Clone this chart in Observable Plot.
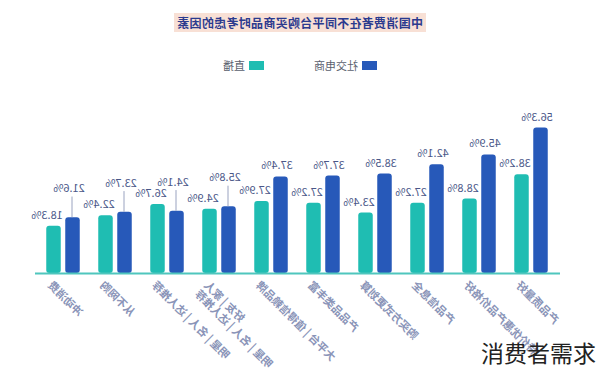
<!DOCTYPE html>
<html>
<head>
<meta charset="utf-8">
<script src="https://cdn.jsdelivr.net/npm/d3@7"></script>
<script src="https://cdn.jsdelivr.net/npm/@observablehq/plot@0.6"></script>
<style>
  body { margin: 0; background: #fff; font-family: "Noto Sans CJK SC", "Noto Sans", sans-serif; }
  #wrap { position: relative; width: 600px; height: 374px; overflow: hidden; }
  #mirror { position: absolute; left: 0; top: 0; width: 600px; height: 374px; transform: scaleX(-1); }
  #title { position: absolute; top: 12px; left: 0; width: 600px; text-align: center; line-height: 18px; }
  #title span { background: #f8e0d5; color: #2b3a8e; font-weight: bold; font-size: 12px; padding: 1px 3px; letter-spacing: 0.3px; }
  #legend { position: absolute; top: 57px; left: 0; width: 600px; display: flex; justify-content: center; gap: 50px; font-size: 11px; color: #5a5f6e; line-height: 16px; }
  #legend .item { display: flex; align-items: center; gap: 4px; }
  #legend .sw { width: 15px; height: 9px; display: inline-block; }
  #chart { position: absolute; top: 80px; left: 0; }
  #wm { position: absolute; right: 4px; top: 337px; font-size: 23px; color: #222; line-height: 30px; }
</style>
</head>
<body>
<div id="wrap">
  <div id="mirror">
    <div id="title"></div>
    <div id="legend"></div>
    <div id="chart"></div>
  </div>
  <div id="wm">消费者需求</div>
</div>
<script>
// ---- data ----
const titleText = "中国消费者在不同平台购买商品时考虑的因素";
const categories = [
  "产品质量好",
  "特价优惠产品价格好",
  "产品信息全",
  "购买方式更划算",
  "产品品类丰富",
  "大平台 | 值得信赖品牌",
  "好友 | 家人\n明星 | 名人 | 达人推荐",
  "明星 | 名人 | 达人推荐",
  "从不网购",
  "冲动消费"
];
const seriesNames = ["社交电商", "直播"];
const seriesColors = ["#2759b9", "#1fbdb2"];
const socialValues = [56.3, 45.9, 42.1, 38.5, 37.7, 37.4, 25.8, 24.1, 23.7, 21.6];
const liveValues = [38.2, 28.8, 27.2, 23.4, 27.2, 27.9, 24.9, 26.7, 22.4, 18.3];

// ---- tables ----
const socialData = categories.map((c, i) => ({cat: c, value: socialValues[i], other: liveValues[i]}));
const liveData = categories.map((c, i) => ({cat: c, value: liveValues[i]}));
const isRaised = d => Math.abs(d.value - d.other) < 5;

// title & legend
document.getElementById("title").innerHTML = `<span>${titleText}</span>`;
document.getElementById("legend").innerHTML = seriesNames.map((s, i) =>
  `<span class="item"><span class="sw" style="background:${seriesColors[i]}"></span>${s}</span>`).join("");

const W = 600, H = 294;
const step = (W - 40 - 35) / categories.length;
const half = step / 2;
const pct = d => d.value + "%";

const chart = Plot.plot({
  width: W,
  height: H,
  marginLeft: 40,
  marginRight: 35,
  marginTop: 38,
  marginBottom: 101,
  x: {type: "band", domain: categories, padding: 0, axis: null},
  y: {domain: [0, 60], axis: null},
  style: {fontFamily: "'Noto Sans CJK SC', 'Noto Sans', sans-serif", background: "transparent"},
  marks: [
    Plot.barY(socialData, {x: "cat", y: "value", fill: seriesColors[0], insetLeft: half - 17, insetRight: half + 2, rx: 3}),
    Plot.barY(liveData, {x: "cat", y: "value", fill: seriesColors[1], insetLeft: half + 2, insetRight: half - 17, rx: 3}),
    Plot.ruleY([0], {stroke: "#4fc6bd", strokeWidth: 2}),
    Plot.ruleX(socialData.filter(isRaised), {x: "cat", y1: "value", y2: d => d.value + 8, dx: -9.5, stroke: "#9aa3c0", strokeWidth: 1}),
    Plot.text(socialData, {x: "cat", y: d => isRaised(d) ? d.value + 7 : d.value, text: pct, dx: -6.5, dy: -11, fontSize: 11, fill: "#4a5788"}),
    Plot.text(liveData, {x: "cat", y: "value", text: pct, dx: 15.5, dy: -11, fontSize: 11, fill: "#4a5788"}),
    Plot.text(categories, {x: d => d, text: d => d, frameAnchor: "bottom", rotate: -45, textAnchor: "end", lineAnchor: "top", dx: 9, dy: 6, fontSize: 11, fontWeight: "bold", fill: "#8a94b8", lineHeight: 1.15})
  ]
});
document.getElementById("chart").appendChild(chart);
</script>
</body>
</html>
